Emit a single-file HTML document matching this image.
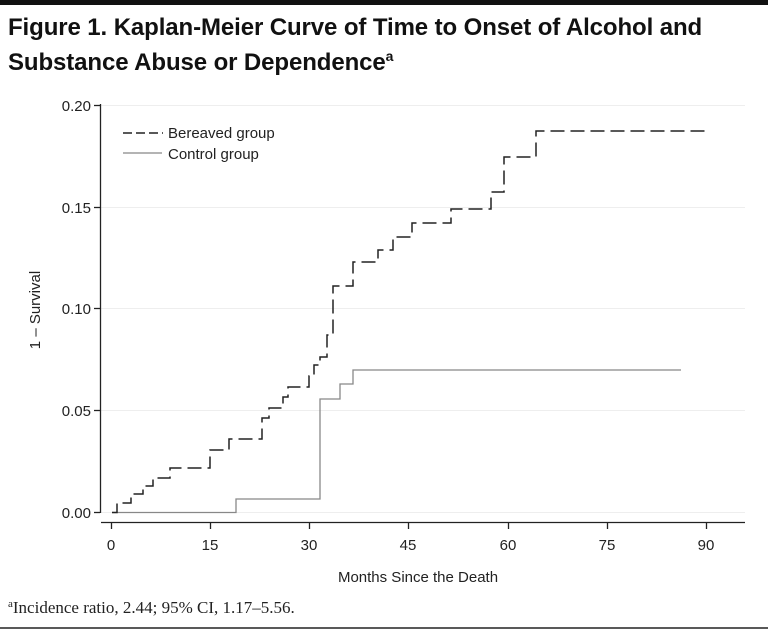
<!DOCTYPE html><html><head><style>
body{margin:0;width:768px;height:631px;background:#fff;overflow:hidden;position:relative;font-family:"Liberation Sans",sans-serif}
</style></head><body>
<div style="position:absolute;left:0;top:0;width:768px;height:5px;background:#111"></div>
<div style="position:absolute;left:8px;top:13px;font-size:24px;font-weight:bold;line-height:29px;color:#111;letter-spacing:-0.1px">Figure 1. Kaplan-Meier Curve of Time to Onset of Alcohol and<br>Substance Abuse or Dependence<sup style="font-size:14px">a</sup></div>
<svg width="768" height="631" style="position:absolute;left:0;top:0" font-family="Liberation Sans, sans-serif">
<g stroke="#eee" stroke-width="1">
<line x1="101" x2="745" y1="105.5" y2="105.5"/><line x1="101" x2="745" y1="207.5" y2="207.5"/><line x1="101" x2="745" y1="308.5" y2="308.5"/><line x1="101" x2="745" y1="410.5" y2="410.5"/><line x1="101" x2="745" y1="512.5" y2="512.5"/></g>
<g stroke="#222" stroke-width="1.3">
<line x1="100.5" y1="104" x2="100.5" y2="513"/>
<line x1="94" x2="100" y1="105.5" y2="105.5"/><line x1="94" x2="100" y1="207.5" y2="207.5"/><line x1="94" x2="100" y1="308.5" y2="308.5"/><line x1="94" x2="100" y1="410.5" y2="410.5"/><line x1="94" x2="100" y1="512.5" y2="512.5"/>
<line x1="101" x2="745" y1="522.5" y2="522.5"/>
<line x1="111.5" x2="111.5" y1="522" y2="529"/><line x1="210.5" x2="210.5" y1="522" y2="529"/><line x1="309.5" x2="309.5" y1="522" y2="529"/><line x1="408.5" x2="408.5" y1="522" y2="529"/><line x1="508.5" x2="508.5" y1="522" y2="529"/><line x1="607.5" x2="607.5" y1="522" y2="529"/><line x1="706.5" x2="706.5" y1="522" y2="529"/>
</g>
<g font-size="15" fill="#222" text-anchor="end">
<text x="91" y="111">0.20</text><text x="91" y="213">0.15</text><text x="91" y="314">0.10</text><text x="91" y="416">0.05</text><text x="91" y="518">0.00</text></g>
<g font-size="15" fill="#222" text-anchor="middle">
<text x="111" y="550">0</text><text x="210" y="550">15</text><text x="309" y="550">30</text><text x="408" y="550">45</text><text x="508" y="550">60</text><text x="607" y="550">75</text><text x="706" y="550">90</text>
<text x="418" y="582">Months Since the Death</text>
<text transform="translate(40,310) rotate(-90)">1 – Survival</text></g>
<path d="M112,512.5H236V499H320V399H340V384H353V370H681" fill="none" stroke="#888" stroke-width="1.3"/>
<path d="M112,512.5H117V503H131V494H143V486H153V478H170V468H210V450H229V439H262V418H269V408H283V397H288V387H309V376H314V365H320V357H327V335H333V286H353V262H378V250H393V237H412V223H451V209H491V192H504V157H536V131H707" fill="none" stroke="#222" stroke-width="1.5" stroke-dasharray="14,6"/>
<line x1="123" x2="163" y1="133" y2="133" stroke="#222" stroke-width="1.5" stroke-dasharray="9,4"/>
<line x1="123" x2="162" y1="153" y2="153" stroke="#888" stroke-width="1.3"/>
<text x="168" y="138" font-size="15" fill="#222">Bereaved group</text>
<text x="168" y="159" font-size="15" fill="#222">Control group</text>
<text x="8" y="613" font-size="17" fill="#222" font-family="Liberation Serif, serif"><tspan font-size="11" dy="-6">a</tspan><tspan dy="6">Incidence ratio, 2.44; 95% CI, 1.17–5.56.</tspan></text>
<line x1="0" x2="768" y1="628" y2="628" stroke="#222" stroke-width="1.5"/>
</svg>
</body></html>
